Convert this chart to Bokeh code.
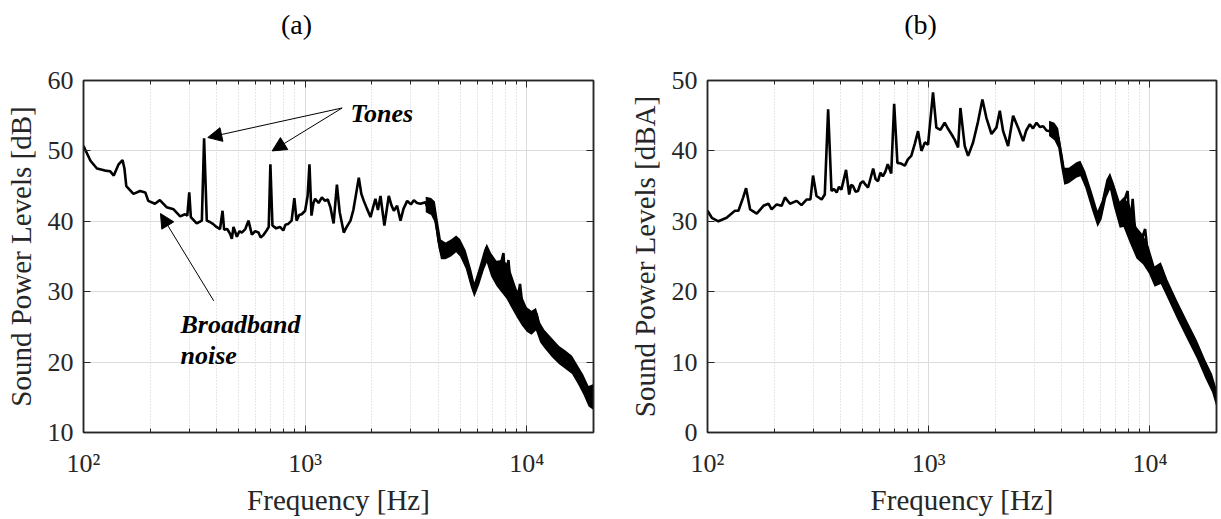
from bokeh.plotting import figure
from bokeh.layouts import row, column
from bokeh.models import (FixedTicker, LinearAxis, LogAxis, Range1d, Label, Arrow,
                          NormalHead)
from bokeh.embed import file_html
from bokeh.resources import INLINE

# ---------------- data ----------------
freq_a = [100, 107.5, 115, 125, 132, 137, 144, 150, 153, 156, 168, 180, 190, 196, 210, 221, 237,
          255, 273, 287, 294, 300, 305, 324, 342, 350, 360, 372, 385, 398, 413, 424, 431, 445,
          459, 467, 475, 492, 505, 518, 537, 555, 575, 595, 616, 630, 646, 670, 685, 697, 712,
          740, 770, 797, 815, 837, 869, 894, 915, 940, 965, 1000, 1026, 1046, 1068, 1090, 1110,
          1150, 1190, 1230, 1265, 1300, 1344, 1391, 1432, 1494, 1540, 1602, 1650, 1698, 1746,
          1793, 1839, 1900, 1972, 2075, 2130, 2188, 2278, 2384, 2450, 2513, 2600, 2693, 2780,
          2888, 3000, 3093, 3200, 3313, 3490, 3612, 3806, 3941, 4082, 4295, 4520, 4757, 5006,
          5380, 5584, 5793, 6091, 6405, 6584, 6846, 7328, 7584, 7848, 7986, 8264, 8552, 9000,
          9319, 9646, 10338, 11070, 11456, 12740, 14160, 15740, 17500, 18760, 19400, 20000]
spl_a = [50.7, 48.6, 47.5, 47.2, 47.1, 46.5, 48.1, 48.7, 47.5, 45.0, 43.9, 44.3, 44.1, 42.9,
         42.5, 43.0, 42.0, 41.7, 40.7, 41.0, 40.8, 44.1, 40.6, 39.7, 40.1, 51.8, 40.1, 39.9,
         39.6, 39.2, 38.9, 41.5, 38.8, 38.9, 38.2, 37.5, 39.2, 37.8, 38.6, 38.4, 38.9, 40.1,
         38.1, 38.6, 38.4, 37.7, 38.0, 38.7, 39.2, 48.1, 39.4, 39.0, 39.2, 38.7, 39.5, 39.6,
         40.1, 43.3, 40.1, 40.9, 41.0, 41.5, 43.6, 48.1, 40.8, 42.6, 43.2, 42.6, 43.4, 42.9,
         43.1, 42.0, 39.7, 45.2, 41.3, 38.4, 39.2, 40.1, 41.6, 43.9, 46.2, 43.9, 42.9, 41.8,
         40.6, 43.2, 41.6, 43.6, 39.4, 43.6, 42.3, 41.5, 42.2, 40.1, 41.8, 42.9, 42.4, 43.0,
         42.6, 42.5, 42.7, 41.5, 41.5, 38.7, 35.8, 35.6, 36.1, 37.3, 36.1, 34.2, 31.6, 30.0,
         32.1, 34.7, 36.3, 34.0, 32.6, 33.5, 35.5, 30.7, 34.5, 29.3, 27.8, 31.1, 26.9, 25.0,
         26.9, 24.0, 22.2, 20.8, 19.8, 17.9, 15.6, 14.6, 16.5]

band_a_f = [3500, 3700, 3850, 3950, 4100, 4300, 4550, 4800, 5000, 5300, 5600, 5800, 6100, 6400,
            6600, 6900, 7300, 7700, 8100, 8500, 9000, 9500, 10000, 10500, 11000, 11500, 12000,
            13000, 14000, 15000, 16000, 17000, 18000, 19000, 20000]
band_a_lo = [41.3, 40.9, 39.8, 37.1, 34.6, 34.6, 35.0, 35.6, 35.0, 33.3, 30.6, 29.2, 31.0, 33.1,
             34.1, 32.2, 30.8, 29.9, 29.0, 27.8, 26.4, 25.2, 24.3, 23.9, 24.5, 22.8, 22.0, 20.7,
             19.7, 19.0, 18.3, 16.9, 15.4, 13.7, 13.2]
band_a_hi = [43.5, 43.3, 42.8, 40.5, 37.4, 37.0, 37.4, 38.0, 37.5, 35.9, 33.3, 31.3, 33.5, 35.8,
             36.8, 35.5, 34.4, 34.5, 34.1, 32.7, 30.4, 29.4, 27.8, 27.3, 27.7, 25.6, 24.6, 23.4,
             22.3, 21.6, 20.9, 19.5, 18.2, 16.6, 16.9]

freq_b = [100, 104.6, 112, 122, 133, 138, 145, 149.4, 155.8, 167, 179, 188.5, 195, 205.5, 216.5,
          224, 236, 253, 266, 281, 292, 300, 311, 328, 339, 351, 363.5, 373, 383.5, 393, 403,
          423, 437, 446, 455, 467, 479, 492, 505, 518, 532, 561, 575, 590, 605, 620, 636, 653,
          677, 698, 722, 750, 780, 805, 834, 865, 895, 927, 961, 993, 1046, 1083, 1130, 1181,
          1225, 1266, 1310, 1358, 1391, 1455, 1507, 1587, 1672, 1749, 1823, 1922, 2023, 2096,
          2170, 2285, 2408, 2536, 2672, 2760, 2866, 2960, 3072, 3180, 3293, 3410, 3530, 3717,
          3850, 3993, 4130, 4350, 4660, 4823, 5078, 5441, 5834, 6040, 6360, 6590, 6826, 7314,
          7571, 7929, 8126, 8357, 8716, 9516, 9860, 10570, 11240, 11930, 13250, 14690, 16300,
          17800, 19100, 20000]
spl_b = [31.5, 30.5, 30.0, 30.5, 31.5, 31.5, 33.4, 34.7, 31.7, 31.1, 32.2, 32.5, 31.7, 32.4,
         32.2, 33.4, 32.5, 32.9, 32.3, 33.1, 33.1, 36.5, 33.6, 33.1, 33.8, 45.9, 34.3, 34.6,
         34.1, 34.9, 34.5, 37.3, 33.8, 35.2, 35.0, 34.2, 34.3, 35.4, 35.7, 35.2, 34.8, 37.5,
         36.0, 35.7, 36.9, 36.4, 37.0, 38.1, 36.8, 46.7, 38.3, 38.2, 37.9, 38.8, 39.3, 41.0,
         42.8, 40.0, 41.2, 40.9, 48.3, 43.3, 43.0, 44.0, 43.1, 42.4, 41.6, 40.5, 46.1, 40.7,
         39.3, 41.2, 44.2, 47.3, 44.7, 42.4, 43.3, 45.7, 42.8, 40.7, 45.0, 43.3, 41.4, 42.9,
         43.8, 43.2, 44.0, 43.4, 43.5, 42.9, 42.8, 42.1, 41.9, 39.1, 36.2, 36.5, 37.4, 37.7,
         36.0, 32.9, 30.1, 31.5, 34.8, 36.0, 33.9, 30.1, 32.5, 34.3, 28.2, 33.2, 25.4, 28.9,
         24.4, 21.6, 23.5, 20.7, 17.4, 14.5, 11.7, 8.9, 7.0, 4.6]

band_b_f = [3500, 3700, 3850, 3950, 4100, 4300, 4650, 4850, 5100, 5450, 5800, 6050, 6350, 6600,
            6850, 7300, 7600, 8100, 8700, 9300, 9900, 10500, 11200, 12000, 13200, 14700, 16300,
            17800, 19100, 20000]
band_b_lo = [42.1, 41.5, 40.4, 38.1, 35.2, 35.4, 36.2, 36.4, 34.8, 31.8, 29.2, 30.3, 33.3, 34.5,
             32.2, 29.1, 29.2, 27.0, 24.7, 23.9, 22.6, 20.7, 21.1, 19.1, 16.3, 13.3, 10.5, 7.7,
             5.7, 3.6]
band_b_hi = [44.3, 44.0, 43.2, 40.9, 37.6, 37.6, 38.4, 38.6, 37.1, 34.3, 31.5, 32.9, 35.9, 36.9,
             35.5, 32.8, 33.4, 32.4, 29.2, 28.1, 26.3, 23.6, 24.2, 21.7, 18.9, 15.9, 13.1, 10.3,
             8.3, 6.2]

x_major = [100, 1000, 10000]
x_minor = [200, 300, 400, 500, 600, 700, 800, 900, 2000, 3000, 4000, 5000, 6000, 7000, 8000,
           9000, 20000]
x_tick_labels = {100: "10²", 1000: "10³", 10000: "10⁴"}
y_ticks_a = [10, 20, 30, 40, 50, 60]
y_ticks_b = [0, 10, 20, 30, 40, 50]
panel_titles = ["(a)", "(b)"]

FONT = "Liberation Serif"
AX = "#262626"
HEAD_H = 45


def style_axis(a):
    a.axis_line_color = AX
    a.axis_line_width = 1.5
    a.major_tick_line_color = AX
    a.minor_tick_line_color = AX
    a.major_tick_in = 7
    a.major_tick_out = 0
    a.minor_tick_in = 4
    a.minor_tick_out = 0


def make_header(width, title, cx):
    h = figure(width=width, height=HEAD_H, output_backend="svg", toolbar_location=None,
               x_axis_location=None, y_axis_location=None, min_border=0,
               x_range=Range1d(0, width), y_range=Range1d(0, HEAD_H))
    h.grid.visible = False
    h.outline_line_color = None
    h.background_fill_color = "white"
    h.border_fill_color = "white"
    h.add_layout(Label(x=cx, y=HEAD_H - 24, text=title, text_font=FONT,
                       text_font_size="28px", text_color="black", text_align="center",
                       text_baseline="middle"))
    return h


def make_panel(width, left, right, yrange, yticks, ylabel, freq, spl, bf, blo, bhi):
    p = figure(width=width, height=519 - HEAD_H, x_axis_type="log", output_backend="svg",
               toolbar_location=None, x_range=Range1d(100, 20000),
               y_range=Range1d(*yrange), min_border_left=left, min_border_right=right,
               min_border_top=80 - HEAD_H, min_border_bottom=87)
    p.background_fill_color = "white"
    p.border_fill_color = "white"
    p.outline_line_color = AX
    p.outline_line_width = 1.5

    p.varea(x=bf, y1=blo, y2=bhi, color="black")
    p.line(freq, spl, color="black", line_width=2.6)

    xt = FixedTicker(ticks=x_major, minor_ticks=x_minor)
    yt = FixedTicker(ticks=yticks, minor_ticks=[])

    xa = p.xaxis[0]
    xa.ticker = xt
    xa.major_label_overrides = x_tick_labels
    xa.axis_label = "Frequency [Hz]"
    ya = p.yaxis[0]
    ya.ticker = yt
    ya.axis_label = ylabel

    for a in (xa, ya):
        style_axis(a)
        a.major_label_text_font = FONT
        a.major_label_text_font_size = "26px"
        a.major_label_text_color = AX
        a.axis_label_text_font = FONT
        a.axis_label_text_font_size = "29px"
        a.axis_label_text_font_style = "normal"
        a.axis_label_text_color = AX
    xa.major_label_standoff = 16
    xa.axis_label_standoff = 3
    ya.major_label_standoff = 10
    ya.axis_label_standoff = 8

    # mirrored box axes (ticks only)
    top = LogAxis(ticker=xt, major_label_text_alpha=0, major_label_text_font_size="1px",
                  major_label_standoff=0)
    right_ax = LinearAxis(ticker=yt, major_label_text_alpha=0,
                          major_label_text_font_size="1px", major_label_standoff=0)
    style_axis(top)
    style_axis(right_ax)
    p.add_layout(top, "above")
    p.add_layout(right_ax, "right")

    p.xgrid.ticker = xt
    p.ygrid.ticker = yt
    p.xgrid.grid_line_color = "#dcdcdc"
    p.xgrid.grid_line_width = 1
    p.xgrid.minor_grid_line_color = "#cfcfcf"
    p.xgrid.minor_grid_line_dash = "1 2"
    p.ygrid.grid_line_color = "#dcdcdc"
    p.ygrid.grid_line_width = 1
    return p


pa = make_panel(600, 83, 7, (10, 60), y_ticks_a, "Sound Power Levels [dB]",
                freq_a, spl_a, band_a_f, band_a_lo, band_a_hi)
pb = make_panel(621, 107, 5, (0, 50), y_ticks_b, "Sound Power Levels [dBA]",
                freq_b, spl_b, band_b_f, band_b_lo, band_b_hi)
ha = make_header(600, panel_titles[0], 296)
hb = make_header(621, panel_titles[1], 320)

# annotations in (a)
for tx, ty in [(363.7, 51.9), (710, 50.0)]:
    pa.add_layout(Arrow(end=NormalHead(size=14, fill_color="black", line_color="black"),
                        x_start=1469, y_start=56.1, x_end=tx, y_end=ty,
                        line_color="black", line_width=1))
pa.add_layout(Arrow(end=NormalHead(size=14, fill_color="black", line_color="black"),
                    x_start=387, y_start=28.7, x_end=222.5, y_end=41.1,
                    line_color="black", line_width=1))
pa.add_layout(Label(x=1601, y=55.3, text="Tones", text_font=FONT, text_font_size="26px",
                    text_font_style="bold italic", text_color="black",
                    text_baseline="alphabetic"))
pa.add_layout(Label(x=274, y=25.4, text="Broadband", text_font=FONT, text_font_size="26px",
                    text_font_style="bold italic", text_color="black",
                    text_baseline="alphabetic"))
pa.add_layout(Label(x=274, y=21.0, text="noise", text_font=FONT, text_font_size="26px",
                    text_font_style="bold italic", text_color="black",
                    text_baseline="alphabetic"))

layout = column(row(ha, hb), row(pa, pb), spacing=0)
open("out.html", "w").write(file_html(layout, INLINE))
